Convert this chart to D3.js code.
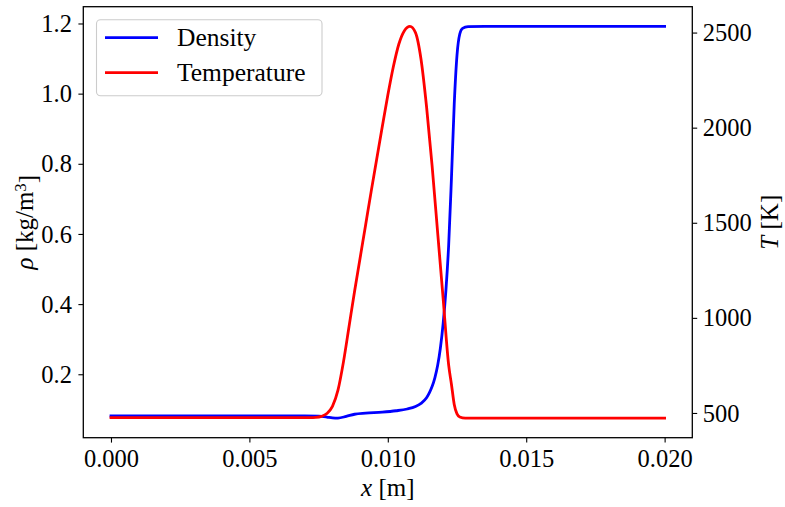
<!DOCTYPE html>
<html>
<head>
<meta charset="utf-8">
<script src="https://cdn.jsdelivr.net/npm/d3@7"></script>
<style>
  html, body { margin: 0; padding: 0; background: #fff; }
  svg { display: block; }
  svg text { font-family: "Liberation Serif", "Times New Roman", serif !important; fill: #000; }
</style>
</head>
<body>
<svg id="chart" width="785" height="507"></svg>
<script>
// Position along the domain [m]
const densityX = [0, 0.0070, 0.0075, 0.0078, 0.0080, 0.0082, 0.0085, 0.0088, 0.0092, 0.0098,
  0.0103, 0.0107, 0.0110, 0.0112, 0.0114, 0.0115, 0.0116, 0.0117, 0.0118, 0.0119, 0.0120,
  0.0121, 0.0122, 0.0123, 0.0124, 0.0125, 0.0126, 0.0127, 0.0129, 0.0135, 0.0200];
// Density [kg/m^3]
const densityValues = [0.081, 0.081, 0.0805, 0.078, 0.0755, 0.075, 0.080, 0.086, 0.089, 0.092,
  0.096, 0.101, 0.108, 0.117, 0.133, 0.147, 0.165, 0.19, 0.225, 0.275, 0.345,
  0.44, 0.57, 0.76, 0.97, 1.11, 1.17, 1.186, 1.191, 1.192, 1.192];

const temperatureX = [0, 0.0072, 0.0074, 0.0076, 0.0078, 0.0080, 0.0082, 0.0084, 0.0086, 0.0088,
  0.0090, 0.0092, 0.0094, 0.0096, 0.0098, 0.0100, 0.0102, 0.0104, 0.0106, 0.0108,
  0.0110, 0.0112, 0.0114, 0.0116, 0.0118, 0.0120, 0.0122, 0.0123, 0.0124, 0.0125,
  0.0126, 0.0128, 0.0200];
// Temperature [K]
const temperatureValues = [476, 476, 477, 482, 497, 535, 620, 770, 955, 1140,
  1315, 1490, 1665, 1835, 2005, 2170, 2320, 2440, 2510, 2533,
  2500, 2360, 2110, 1800, 1450, 1100, 750, 650, 545, 495,
  479, 473, 473];

const xTicks = [0.000, 0.005, 0.010, 0.015, 0.020];
const densityTicks = [0.2, 0.4, 0.6, 0.8, 1.0, 1.2];
const temperatureTicks = [500, 1000, 1500, 2000, 2500];

const seriesNames = ["Density", "Temperature"];
const seriesColors = ["#0000ff", "#ff0000"];

const svg = d3.select("#chart");
const plot = { left: 83.3, right: 692.3, top: 6.7, bottom: 437.7 };
const serif = '"Liberation Serif", "Times New Roman", serif';
const fs = 24.5;

// matplotlib-like 5% padding on data limits
function padded(values) {
  const [lo, hi] = d3.extent(values);
  const m = (hi - lo) * 0.05;
  return [lo - m, hi + m];
}

const x = d3.scaleLinear().domain(padded(densityX.concat(temperatureX))).range([plot.left, plot.right]);
const yRho = d3.scaleLinear().domain(padded(densityValues)).range([plot.bottom, plot.top]);
const yT = d3.scaleLinear().domain(padded(temperatureValues)).range([plot.bottom, plot.top]);

svg.append("clipPath").attr("id", "plotclip")
  .append("rect").attr("x", plot.left).attr("y", plot.top)
  .attr("width", plot.right - plot.left).attr("height", plot.bottom - plot.top);

const line = (ys) => d3.line().x(d => x(d[0])).y(d => ys(d[1])).curve(d3.curveMonotoneX);

const g = svg.append("g").attr("clip-path", "url(#plotclip)");
g.append("path")
  .datum(d3.zip(densityX, densityValues))
  .attr("fill", "none").attr("stroke", seriesColors[0]).attr("stroke-width", 2.8)
  .attr("stroke-linejoin", "round").attr("stroke-linecap", "square")
  .attr("d", line(yRho));
g.append("path")
  .datum(d3.zip(temperatureX, temperatureValues))
  .attr("fill", "none").attr("stroke", seriesColors[1]).attr("stroke-width", 2.8)
  .attr("stroke-linejoin", "round").attr("stroke-linecap", "square")
  .attr("d", line(yT));

// Axes
function styleAxis(sel) {
  sel.attr("font-family", serif).attr("font-size", fs);
  sel.select(".domain").remove();
  sel.selectAll(".tick line").attr("stroke", "#000").attr("stroke-width", 1.1);
  sel.selectAll(".tick text").style("font-family", serif).style("font-size", fs + "px");
}

svg.append("g").attr("transform", `translate(0,${plot.bottom})`)
  .call(d3.axisBottom(x).tickValues(xTicks).tickFormat(d3.format(".3f")).tickSize(4.9).tickPadding(5))
  .call(styleAxis)
  .selectAll(".tick text").attr("dy", "0.78em");

svg.append("g").attr("transform", `translate(${plot.left},0)`)
  .call(d3.axisLeft(yRho).tickValues(densityTicks).tickFormat(d3.format(".1f")).tickSize(4.9).tickPadding(6.5))
  .call(styleAxis)
  .selectAll(".tick text").attr("dy", "0.33em");

svg.append("g").attr("transform", `translate(${plot.right},0)`)
  .call(d3.axisRight(yT).tickValues(temperatureTicks).tickFormat(d3.format("d")).tickSize(4.9).tickPadding(5.5))
  .call(styleAxis)
  .selectAll(".tick text").attr("dy", "0.33em");

// Frame
svg.append("rect")
  .attr("x", plot.left).attr("y", plot.top)
  .attr("width", plot.right - plot.left).attr("height", plot.bottom - plot.top)
  .attr("fill", "none").attr("stroke", "#000").attr("stroke-width", 1.3);

// Axis labels
const xl = svg.append("text").attr("x", (plot.left + plot.right) / 2).attr("y", 496)
  .attr("text-anchor", "middle").style("font-size", "25px");
xl.append("tspan").style("font-style", "italic").text("x");
xl.append("tspan").text(" [m]");

const rl = svg.append("text")
  .attr("transform", `translate(33,${(plot.top + plot.bottom) / 2}) rotate(-90)`)
  .attr("text-anchor", "middle").style("font-size", "25px");
rl.append("tspan").style("font-style", "italic").text("ρ");
rl.append("tspan").text(" [kg/m");
rl.append("tspan").attr("dy", "-0.42em").style("font-size", "17px").text("3");
rl.append("tspan").attr("dy", "0.42em").text("]");

const tl = svg.append("text")
  .attr("transform", `translate(778,${(plot.top + plot.bottom) / 2}) rotate(-90)`)
  .attr("text-anchor", "middle").style("font-size", "25px");
tl.append("tspan").style("font-style", "italic").text("T");
tl.append("tspan").text(" [K]");

// Legend
const leg = svg.append("g");
leg.append("rect").attr("x", 96.5).attr("y", 19.7).attr("width", 225.5).attr("height", 76)
  .attr("rx", 4).attr("fill", "#fff").attr("fill-opacity", 0.8)
  .attr("stroke", "#cccccc").attr("stroke-width", 1.1);
const legY = [37.7, 72.7];
seriesNames.forEach((name, i) => {
  leg.append("line").attr("x1", 105).attr("x2", 158).attr("y1", legY[i]).attr("y2", legY[i])
    .attr("stroke", seriesColors[i]).attr("stroke-width", 2.8);
  leg.append("text").attr("x", 177).attr("y", legY[i]).attr("dy", "0.33em")
    .style("font-size", "25.5px").text(name);
});
</script>
</body>
</html>
